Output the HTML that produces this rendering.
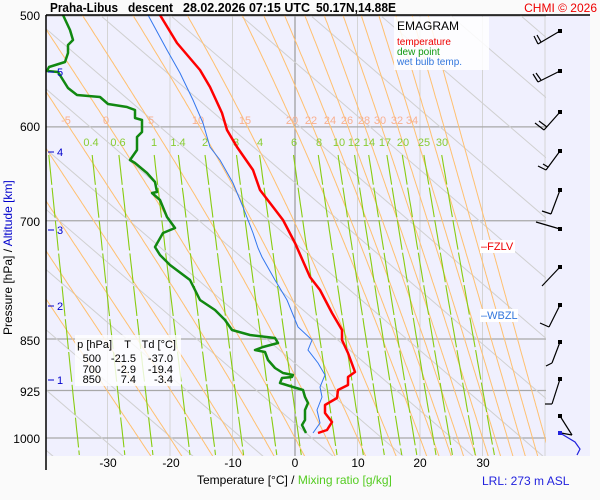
<!DOCTYPE html>
<html><head><meta charset="utf-8"><style>
body{margin:0;background:#fafafa;}
svg{display:block;font-family:"Liberation Sans",sans-serif;}
</style></head><body>
<svg id="s" width="600" height="500" xmlns="http://www.w3.org/2000/svg">
<rect x="0" y="0" width="600" height="500" fill="#fafafa"/>
<rect x="46" y="15" width="544" height="441" fill="#f0f0fe"/>
<defs><clipPath id="c"><rect x="46" y="15" width="500" height="441"/></clipPath></defs>
<g id="grid" clip-path="url(#c)"></g>
<g id="iso" clip-path="url(#c)"></g>
<g id="prof"></g>
<g id="barbs" stroke="#000" stroke-width="1.2" fill="none"></g>
<line x1="46" y1="15" x2="590" y2="15" stroke="#000" stroke-width="1.5"/>
<line x1="46" y1="15" x2="46" y2="470" stroke="#000" stroke-width="1.5"/>
<g font-size="13" font-weight="bold">
<text x="50" y="12" textLength="68" lengthAdjust="spacingAndGlyphs">Praha-Libus</text>
<text x="128" y="12" textLength="45" lengthAdjust="spacingAndGlyphs">descent</text>
<text x="183" y="12" textLength="127" lengthAdjust="spacingAndGlyphs">28.02.2026 07:15 UTC</text>
<text x="316" y="12" textLength="80" lengthAdjust="spacingAndGlyphs">50.17N,14.88E</text>
</g>
<text x="597" y="12" font-size="12" fill="#e00" text-anchor="end">CHMI © 2026</text>
<g font-size="12" text-anchor="end">
<text x="40" y="20">500</text><text x="40" y="131">600</text><text x="40" y="226">700</text>
<text x="40" y="345">850</text><text x="40" y="396">925</text><text x="40" y="443">1000</text>
</g>
<g font-size="11" fill="#00c">
<line x1="48" y1="72" x2="54" y2="72" stroke="#00c"/><text x="57" y="76">5</text>
<line x1="48" y1="152" x2="54" y2="152" stroke="#00c"/><text x="57" y="156">4</text>
<line x1="48" y1="230" x2="54" y2="230" stroke="#00c"/><text x="57" y="234">3</text>
<line x1="48" y1="306" x2="54" y2="306" stroke="#00c"/><text x="57" y="310">2</text>
<line x1="48" y1="380" x2="54" y2="380" stroke="#00c"/><text x="57" y="384">1</text>
</g>
<text transform="translate(12,335) rotate(-90)" font-size="12"><tspan fill="#000">Pressure [hPa]  /  </tspan><tspan fill="#00c">Altitude [km]</tspan></text>
<g font-size="12" text-anchor="middle">
<text x="108" y="467">-30</text><text x="171" y="467">-20</text><text x="233" y="467">-10</text>
<text x="295" y="467">0</text><text x="358" y="467">10</text><text x="420" y="467">20</text><text x="483" y="467">30</text>
</g>
<text x="197" y="484" font-size="12">Temperature [°C]  /  <tspan fill="#5c2">Mixing ratio [g/kg]</tspan></text>
<text x="482" y="485" font-size="12" fill="#22d">LRL: 273 m ASL</text>
<rect x="394" y="17" width="95" height="53" fill="#fff" opacity="0.85"/>
<text x="397" y="30" font-size="12">EMAGRAM</text>
<text x="397" y="45" font-size="10" fill="#e00">temperature</text>
<text x="397" y="55" font-size="10" fill="#191">dew point</text>
<text x="397" y="65" font-size="10" fill="#37d">wet bulb temp.</text>
<rect x="75" y="335" width="106" height="51" fill="#fff" opacity="0.8"/>
<g font-size="11" text-anchor="end">
<text x="112" y="348">p [hPa]</text><text x="131" y="348">T</text><text x="176" y="348">Td [°C]</text>
<text x="101" y="362">500</text><text x="136" y="362">-21.5</text><text x="173" y="362">-37.0</text>
<text x="101" y="373">700</text><text x="136" y="373">-2.9</text><text x="173" y="373">-19.4</text>
<text x="101" y="383">850</text><text x="136" y="383">7.4</text><text x="173" y="383">-3.4</text>
</g>
<rect x="480" y="240" width="35" height="13" fill="#fff"/>
<text x="481" y="250" font-size="11" fill="#e00">–FZLV</text>
<rect x="480" y="309" width="38" height="13" fill="#fff"/>
<text x="481" y="319" font-size="11" fill="#37d">–WBZL</text>
</svg>
<script>
var NS="http://www.w3.org/2000/svg";
function X(t){return 295+6.25*t;}
function Y(p){return 438-609*Math.log(1000/p);}
function P(y){return 1000*Math.exp((y-438)/609);}
function el(g,tag,a){var e=document.createElementNS(NS,tag);for(var k in a)e.setAttribute(k,a[k]);document.getElementById(g).appendChild(e);return e;}
function pl(g,pts,col,w,extra){var d=pts.map(function(q,i){return(i?"L":"M")+q[0].toFixed(1)+","+q[1].toFixed(1);}).join("");var a={d:d,stroke:col,"stroke-width":w,fill:"none"};for(var k in extra)a[k]=extra[k];return el(g,"path",a);}
for(var t=-40;t<=40;t+=10){el("grid","line",{x1:X(t),y1:15,x2:X(t),y2:456,stroke:t==0?"#999":"#d4d4d4","stroke-width":t==0?1.2:1});}
[500,600,700,850,925,1000].forEach(function(p){el("grid","line",{x1:46,y1:Y(p),x2:546,y2:Y(p),stroke:"#a8a8a8","stroke-width":1.2});});
for(var x0=-600;x0<=560;x0+=70){el("iso","line",{x1:x0,y1:15,x2:x0+520,y2:15+520*0.86,stroke:"#d0d0d0","stroke-width":1});}
function es(T){return 6.112*Math.exp(17.67*T/(T+243.5));}
function dTdp(T,p){var e=es(T-273.15),rs=0.622*e/(p-e),L=2.5e6,R=287,cp=1004;return (R*T+L*rs)/(p*(cp+L*L*rs*0.622/(R*T*T)));}
function moist(tw){var T=tw+273.15;for(var pp=1000;pp<1032;pp+=2){T+=2*dTdp(T,pp);}var pts=[[X(T-273.15),Y(1032)]];var dp=-2;
 for(var p=1032;p>490;p+=dp){T+=dp*dTdp(T,p);pts.push([X(T-273.15),Y(p+dp)]);}return pts;}
[-25,-20,-15,-10,-5,0,5,10,15,20,22,24,26,28,30,32,34,36,38,40].forEach(function(tw){pl("iso",moist(tw),"#ffc070",1);});
function tdw(w,p){var e=w*p/(622+w),l=Math.log(e/6.112);return 243.5*l/(17.67-l);}
[0.2,0.4,0.6,1,1.4,2,3,4,6,8,10,12,14,17,20,25,30].forEach(function(w){var pts=[];for(var y=155;y<=456;y+=5){pts.push([X(tdw(w,P(y))),y]);}pl("iso",pts,"#88cc11",1.1,{"stroke-dasharray":"30,3"});});
var sg=document.getElementById("s");
function tx(x,y,s,c){var e=document.createElementNS(NS,"text");e.setAttribute("x",x);e.setAttribute("y",y);e.setAttribute("font-size","11");e.setAttribute("fill",c);e.setAttribute("text-anchor","middle");e.textContent=s;sg.insertBefore(e,document.getElementById("prof"));}
[[-5,66],[0,106],[5,151],[10,198],[15,245],[20,292],[22,311],[24,330],[26,347],[28,364],[30,380],[32,397],[34,412]].forEach(function(a){tx(a[1],124,String(a[0]),"#f8b090");});
[["0.4",91],["0.6",118],["1",154],["1.4",178],["2",205],["3",236],["4",260],["6",294],["8",319],["10",339],["12",354],["14",369],["17",385],["20",403],["25",424],["30",442]].forEach(function(a){tx(a[1],146,a[0],"#88cc33");});
var wb=[[148,15],[167,50],[180,73],[193,100],[203,123],[210,147],[220,160],[233,183],[243,207],[253,233],[258,248],[262,257],[275,280],[287,300],[298,327],[312,340],[308,350],[318,363],[325,375],[320,387],[322,397],[317,410],[320,423],[313,433]];
var td=[[63,15],[70,30],[73,40],[68,45],[68,53],[65,62],[49,67],[47,71],[58,72],[68,88],[77,95],[100,97],[108,104],[127,107],[135,110],[135,118],[142,120],[142,132],[137,137],[137,150],[130,160],[135,163],[147,173],[155,182],[157,192],[152,193],[160,200],[167,217],[175,228],[163,233],[155,247],[160,255],[170,265],[190,280],[200,300],[215,310],[225,320],[232,330],[250,335],[275,338],[278,343],[263,347],[255,350],[265,352],[268,360],[275,368],[283,373],[293,375],[292,377],[282,378],[280,383],[293,387],[303,390],[305,397],[308,403],[305,410],[305,420],[302,425],[306,433]];
var tt=[[160,15],[177,43],[200,70],[210,87],[222,113],[227,130],[237,147],[253,170],[260,190],[270,203],[283,220],[295,243],[310,277],[320,290],[332,313],[342,330],[342,340],[348,353],[355,372],[348,377],[348,385],[338,390],[337,398],[325,405],[325,413],[332,422],[327,430],[318,433]];
pl("prof",wb,"#3377ee",1);
pl("prof",td,"#118811",2.5,{"stroke-linejoin":"round"});
pl("prof",tt,"#ff0000",2.5,{"stroke-linejoin":"round"});
var B=[[31,538,44,[[538,44,534,36],[541,42,537,35]]],[71,538,82,[[538,82,533,74],[541,80,536,73]]],[112,544,130,[[544,130,535,123],[547,127,539,121]]],[151,546,170,[[546,170,538,166],[548,167,543,164]]],[190,551,214,[[551,214,542,211]]],[229,536,222,[]],[267,542,286,[]],[305,549,327,[[549,327,540,323]]],[342,552,363,[[552,363,546,366]]],[379,552,404,[[552,404,545,404]]],[416,572,435,[[572,435,561,433]]]];
B.forEach(function(b){el("barbs","line",{x1:560,y1:b[0],x2:b[1],y2:b[2]});b[3].forEach(function(f){el("barbs","line",{x1:f[0],y1:f[1],x2:f[2],y2:f[3]});});el("barbs","rect",{x:558,y:b[0]-2,width:4,height:4,fill:"#000",stroke:"none"});});
pl("barbs",[[560,433],[575,442],[580,449],[577,455]],"#22d",1.2);
el("barbs","rect",{x:558,y:431,width:4,height:4,fill:"#22d",stroke:"none"});
</script>
</body></html>
